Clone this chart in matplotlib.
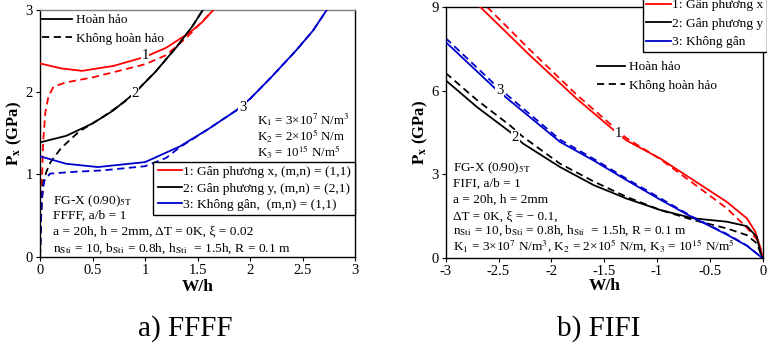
import matplotlib
matplotlib.use('Agg')
import matplotlib.pyplot as plt
from matplotlib.lines import Line2D

plt.rcParams['font.family'] = ['Liberation Serif', 'DejaVu Serif']
plt.rcParams['mathtext.fontset'] = 'stix'

# ---- a) FFFF : du lieu doc tu hinh ----
a_x1 = [0, 0.2, 0.4, 0.7, 1.0, 1.2, 1.43, 1.55, 1.65]
a_y1 = [2.35, 2.29, 2.26, 2.32, 2.43, 2.54, 2.73, 2.86, 3.0]
a_x1d = [0, 0.01, 0.02, 0.03, 0.05, 0.08, 0.13, 0.25, 0.5, 1.0, 1.2, 1.4, 1.65]
a_y1d = [0, 0.5, 1.0, 1.4, 1.75, 1.95, 2.07, 2.12, 2.18, 2.34, 2.45, 2.67, 3.0]

a_x2 = [0, 0.25, 0.5, 0.7, 0.9, 1.1, 1.3, 1.45, 1.55]
a_y2 = [1.39, 1.47, 1.62, 1.78, 1.99, 2.25, 2.55, 2.8, 3.0]
a_x2d = [0, 0.01, 0.03, 0.06, 0.1, 0.2, 0.37, 0.6, 0.8, 0.9, 1.1, 1.3, 1.45, 1.55]
a_y2d = [0, 0.5, 0.9, 1.03, 1.15, 1.32, 1.52, 1.70, 1.88, 1.99, 2.25, 2.55, 2.8, 3.0]

a_x3 = [0, 0.25, 0.55, 1.0, 1.33, 1.6, 1.87, 2.0, 2.2, 2.44, 2.6, 2.73]
a_y3 = [1.22, 1.13, 1.09, 1.15, 1.34, 1.55, 1.78, 1.92, 2.18, 2.51, 2.75, 3.0]
a_x3d = [0, 0.016, 0.04, 0.095, 0.3, 0.6, 1.0, 1.2, 1.33, 1.6, 1.87, 2.0, 2.2, 2.44, 2.6, 2.73]
a_y3d = [0, 0.71, 0.92, 1.01, 1.03, 1.05, 1.10, 1.2, 1.33, 1.55, 1.78, 1.92, 2.18, 2.51, 2.75, 3.0]

# ---- b) FIFI ----
b_x1 = [-2.675, -2.2, -1.76, -1.37, -1.29, -0.97, -0.657, -0.34, -0.15, -0.07, -0.02, 0]
b_y1 = [9.0, 7.25, 5.71, 4.46, 4.22, 3.57, 2.80, 2.02, 1.43, 0.95, 0.35, 0]
b_x1d = [-2.61, -2.2, -1.76, -1.29, -0.97, -0.657, -0.34, -0.15, -0.04, 0]
b_y1d = [9.0, 7.45, 5.85, 4.3, 3.55, 2.68, 1.79, 1.1, 0.6, 0]

b_x2 = [-3, -2.7, -2.39, -2.27, -1.92, -1.6, -1.29, -0.97, -0.657, -0.34, -0.15, -0.057, -0.02, 0]
b_y2 = [6.37, 5.4, 4.52, 4.11, 3.27, 2.62, 2.14, 1.73, 1.43, 1.31, 1.15, 0.77, 0.2, 0]
b_x2d = [-3, -2.7, -2.39, -2.27, -1.92, -1.6, -1.29, -0.97, -0.657, -0.34, -0.15, -0.057, 0]
b_y2d = [6.63, 5.65, 4.75, 4.35, 3.39, 2.75, 2.2, 1.73, 1.37, 1.07, 0.83, 0.54, 0]

b_x3 = [-3, -2.53, -1.92, -1.6, -1.29, -0.97, -0.657, -0.34, -0.15, 0]
b_y3 = [7.74, 6.07, 4.17, 3.5, 2.8, 2.1, 1.45, 0.85, 0.45, 0]
b_x3d = [-3, -2.53, -1.92, -1.6, -1.29, -0.97, -0.657, -0.34, -0.15, 0]
b_y3d = [7.88, 6.2, 4.25, 3.56, 2.85, 2.15, 1.47, 0.87, 0.46, 0]

mau = ['#ff0000', '#000000', '#0000cc']
ten_a = ['1: Gân phương x, (m,n) = (1,1)', '2: Gân phương y, (m,n) = (2,1)',
         '3: Không gân,  (m,n) = (1,1)']
ten_b = ['1: Gân phương x', '2: Gân phương y', '3: Không gân']
ten_kieu = ['Hoàn hảo', 'Không hoàn hảo']

fig = plt.figure(figsize=(7.67, 3.45), dpi=100)
ax1 = fig.add_axes([0.0522, 0.256, 0.4107, 0.715])
ax2 = fig.add_axes([0.5811, 0.2513, 0.4133, 0.729])

lw = 1.3
dash = (4, 2.5)

duong_a = [(a_x1, a_y1, a_x1d, a_y1d), (a_x2, a_y2, a_x2d, a_y2d), (a_x3, a_y3, a_x3d, a_y3d)]
duong_b = [(b_x1, b_y1, b_x1d, b_y1d), (b_x2, b_y2, b_x2d, b_y2d), (b_x3, b_y3, b_x3d, b_y3d)]
for ax, duong in [(ax1, duong_a), (ax2, duong_b)]:
    for (xs, ys, xd, yd), c in zip(duong, mau):
        ax.plot(xd, yd, color=c, lw=lw, dashes=dash, zorder=2)
        ax.plot(xs, ys, color=c, lw=lw, zorder=3)

# nhan so tren duong cong
def nhan(ax, x, y, s):
    ax.text(x, y, s, ha='center', va='center', fontsize=10.5, zorder=5,
            bbox=dict(facecolor='white', edgecolor='none', pad=0.5))

nhan(ax1, 1.0, 2.45, '1')
nhan(ax1, 0.905, 1.99, '2')
nhan(ax1, 1.93, 1.82, '3')
nhan(ax2, -1.37, 4.46, '1')
nhan(ax2, -2.34, 4.34, '2')
nhan(ax2, -2.49, 6.0, '3')

# truc
for ax in (ax1, ax2):
    ax.tick_params(direction='out', length=3, width=0.8, labelsize=10.5, pad=2)
    for s in ax.spines.values():
        s.set_linewidth(1.0)
    ax.set_ylabel(r'$\mathbf{P_x}$ (GPa)', fontsize=12, fontweight='bold', labelpad=1)
    ax.set_xlabel('W/h', fontsize=12.5, fontweight='bold', labelpad=0)

ax1.set_xlim(0, 3)
ax1.set_ylim(0, 3)
ax1.set_xticks([0, 0.5, 1, 1.5, 2, 2.5, 3])
ax1.set_xticklabels(['0', '0.5', '1', '1.5', '2', '2.5', '3'])
ax1.set_yticks([0, 1, 2, 3])
ax1.spines['top'].set_color('#808080')
ax1.xaxis.labelpad = 2

ax2.set_xlim(-3, 0)
ax2.set_ylim(0, 9)
ax2.set_xticks([-3, -2.5, -2, -1.5, -1, -0.5, 0])
ax2.set_xticklabels(['-3', '-2.5', '-2', '-1.5', '-1', '-0.5', '0'])
ax2.set_yticks([0, 3, 6, 9])
ax2.xaxis.labelpad = 0

# chu thich kieu duong
kieu = [Line2D([], [], color='k', lw=lw), Line2D([], [], color='k', lw=lw, dashes=dash)]
lg1 = ax1.legend(kieu, ten_kieu, loc='center left', bbox_to_anchor=(0.005, 0.921),
                 frameon=False, fontsize=9.5, handlelength=2.3, handletextpad=0.3,
                 borderpad=0, borderaxespad=0, labelspacing=0.5)
ax1.add_artist(lg1)
mau_h = [Line2D([], [], color=c, lw=lw) for c in mau]
lg2 = ax1.legend(mau_h, ten_a, loc='upper right', bbox_to_anchor=(1.0, 0.385),
                 fontsize=9.7, handlelength=1.8, handletextpad=0.1, borderpad=0.3,
                 borderaxespad=0, labelspacing=0.3, fancybox=False,
                 edgecolor='black', framealpha=1)
lg2.get_frame().set_linewidth(1.0)

lg3 = ax2.legend(mau_h, ten_b, loc='lower right', bbox_to_anchor=(1.012, 0.821),
                 fontsize=9.7, handlelength=1.8, handletextpad=0.1, borderpad=0.25,
                 borderaxespad=0, labelspacing=0.45, fancybox=False,
                 edgecolor='black', framealpha=1)
lg3.get_frame().set_linewidth(1.0)
lg3.set_clip_on(False)
ax2.add_artist(lg3)
ax2.legend(kieu, ten_kieu, loc='center left', bbox_to_anchor=(0.478, 0.723),
           frameon=False, fontsize=9.5, handlelength=2.1, handletextpad=0.3,
           borderpad=0, borderaxespad=0, labelspacing=0.45)

# thong so
dong_a = [r'K$_1$ = 3×10$^7$ N/m$^3$', r'K$_2$ = 2×10$^5$ N/m', r'K$_3$ = 10$^{15}$ N/m$^5$']
for i, s in enumerate(dong_a):
    ax1.text(0.69, 0.555 - i * 0.066, s, transform=ax1.transAxes, fontsize=9.3, va='center')

dong_a2 = [r'FG-X (0/90)$_{\rm 5T}$', 'FFFF, a/b = 1',
           'a = 20h, h = 2mm, ΔT = 0K, ξ = 0.02',
           r'n$_{\rm Sti}$ = 10, b$_{\rm Sti}$ = 0.8h, h$_{\rm Sti}$  = 1.5h, R = 0.1 m']
ya = [0.226, 0.165, 0.101, 0.034]
for s, y in zip(dong_a2, ya):
    ax1.text(0.042, y, s, transform=ax1.transAxes, fontsize=9.7, va='center')

dong_b = [r'FG-X (0/90)$_{\rm 5T}$', 'FIFI, a/b = 1', 'a = 20h, h = 2mm',
          'ΔT = 0K, ξ = − 0.1,',
          r'n$_{\rm Sti}$ = 10, b$_{\rm Sti}$ = 0.8h, h$_{\rm Sti}$  = 1.5h, R = 0.1 m',
          r'K$_1$ = 3×10$^7$ N/m$^3$, K$_2$ = 2×10$^5$ N/m, K$_3$ = 10$^{15}$ N/m$^5$']
yb = [0.358, 0.298, 0.234, 0.168, 0.110, 0.046]
for s, y in zip(dong_b, yb):
    ax2.text(0.022, y, s, transform=ax2.transAxes, fontsize=9.5, va='center')

fig.text(0.241, 0.049, 'a) FFFF', ha='center', va='center', fontsize=21)
fig.text(0.781, 0.049, 'b) FIFI', ha='center', va='center', fontsize=21)

fig.savefig('out.png', dpi=100)
